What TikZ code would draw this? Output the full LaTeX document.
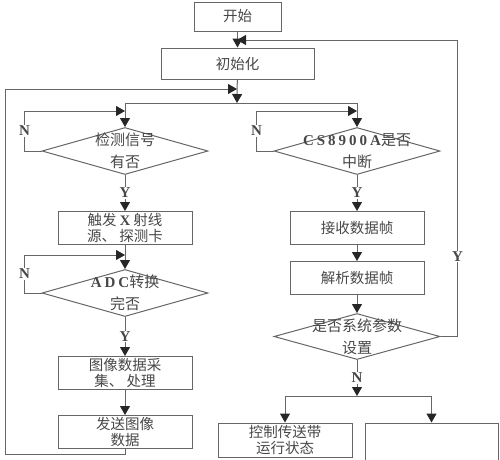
\documentclass[tikz,border=0pt]{standalone}
\usepackage{fontspec}
\newfontfamily\cjk{Noto Sans CJK SC}
\newfontfamily\timesf{Liberation Serif}
\newfontfamily\latb{Liberation Serif}[LetterSpace=20]
\usetikzlibrary{shapes.geometric, arrows.meta, positioning}
\colorlet{linec}{black!60}
\colorlet{tipc}{black!85}
\colorlet{txtc}{black!72}
\newcommand{\lat}[1]{{\latb\bfseries #1}}

\begin{document}
\begin{tikzpicture}[x=1pt, y=-1pt,
  box/.style={draw=linec, line width=1pt, minimum width=134pt, minimum height=33pt, inner sep=0pt, align=center, text=txtc, font=\cjk\fontsize{14.5}{15.5}\selectfont},
  dec/.style={draw=linec, line width=1pt, diamond, aspect=3.5, minimum width=166pt, minimum height=47pt, inner sep=0pt},
  dtext/.style={align=center, text=txtc, font=\cjk\fontsize{15}{22}\selectfont},
  yn/.style={fill=white, inner sep=1pt, text=txtc, font=\timesf\bfseries\fontsize{15}{15}\selectfont},
  line/.style={draw=linec, line width=1pt},
  arr/.style={line, -{Triangle[length=9pt, width=10pt, color=tipc]}}
]
\useasboundingbox (0,0) rectangle (500,459);
\clip (0,0) rectangle (500,459);

\node[box, minimum width=87pt, minimum height=29pt] (start) at (237.5,16.5) {开始};
\node[box, minimum width=153pt, minimum height=31pt, below=16pt of start] (init) {初始化};

% left column
\node[dec, label={[dtext]center:{检测信号\\有否}}] (detect) at (125,151) {};
\node[box, below=36pt of detect] (trigger) {触发 \lat{X} 射线\\源、 探测卡};
\node[dec, below=24pt of trigger, label={[dtext]center:{\lat{ADC}转换\\完否}}] (adc) {};
\node[box, below=39pt of adc] (image) {图像数据采\\集、 处理};
\node[box, below=25pt of image] (send) {发送图像\\数据};

% right column
\node[dec, label={[dtext]center:{\lat{CS8900A}是否\\中断}}] (cs) at (357,151) {};
\node[box, below=36pt of cs] (recv) {接收数据帧};
\node[box, below=16pt of recv] (parse) {解析数据帧};
\node[dec, minimum height=46pt, below=18pt of parse, label={[dtext]center:{是否系统参数\\设置}}] (sys) {};

\node[box, minimum height=34pt] (belt) at (285,440) {控制传送带\\运行状态};
\node[box, minimum width=133pt, minimum height=38pt] (other) at (431.5,442) {};

\coordinate (top) at (237,40);
\coordinate (back) at (237,89);
\coordinate (split) at (237,103);
\coordinate (splitL) at (125,103);
\coordinate (splitR) at (357,103);
\coordinate (loopL) at (5,454);
\coordinate (fork) at (357,396);
\coordinate (forkL) at (285,396);
\coordinate (forkR) at (431.5,396);

\draw[arr] (start) -- (init);
\draw[arr] (init) -- (split);
\draw[line] (splitL) -- (splitR);
\draw[arr] (splitL) -- (detect.north);
\draw[arr] (splitR) -- (cs.north);

% N loops
\draw[arr] (detect.west) -- ++(-17,0) |- node[yn, pos=0.25] {N} ([yshift=16pt]detect.north);
\draw[arr] (adc.west) -- ++(-17,0) |- node[yn, pos=0.25] {N} ([yshift=14pt]adc.north);
\draw[arr] (cs.west) -- ++(-17,0) |- node[yn, pos=0.25] {N} ([yshift=16pt]cs.north);

\draw[arr] (detect) -- node[yn] {Y} (trigger);
\draw[arr] (trigger) -- (adc);
\draw[arr] (adc) -- node[yn] {Y} (image);
\draw[arr] (image) -- (send);
\draw[arr] (send.south) |- (loopL) |- (back);

\draw[arr] (cs) -- node[yn] {Y} (recv);
\draw[arr] (recv) -- (parse);
\draw[arr] (parse) -- (sys);
\draw[arr] (sys.east) -- ++(17,0) |- node[yn, pos=0.135] {Y} (top);
\draw[arr] (sys) -- node[yn] {N} (fork);
\draw[line] (forkL) -- (forkR);
\draw[arr] (forkL) -- (belt);
\draw[arr] (forkR) -- (other);

\end{tikzpicture}
\end{document}
